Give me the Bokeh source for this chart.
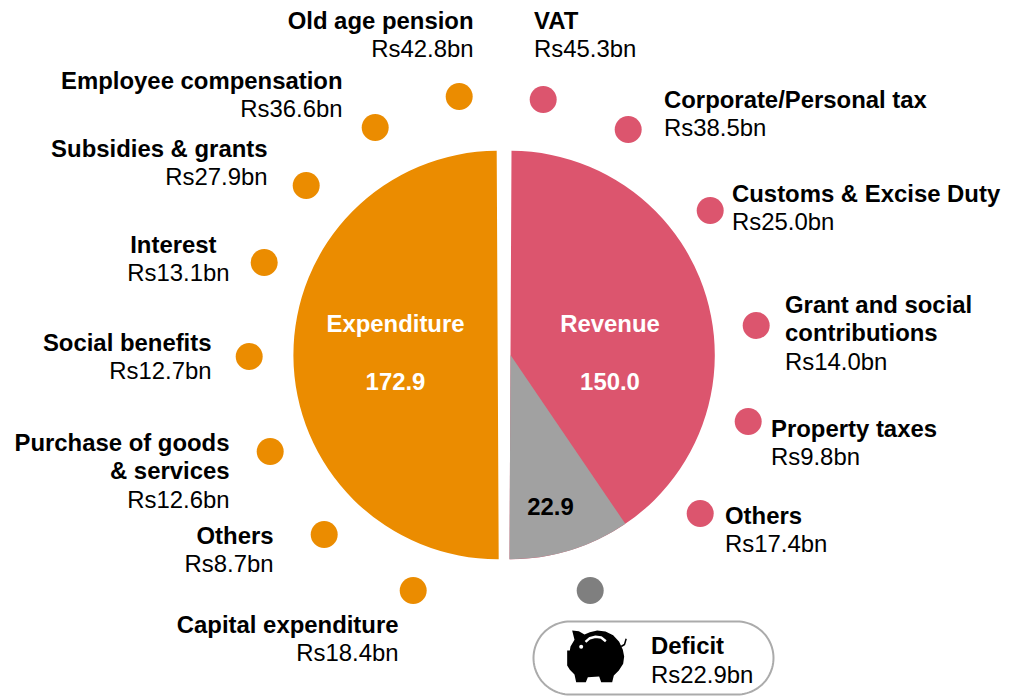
from bokeh.plotting import figure
from bokeh.embed import file_html
from bokeh.resources import INLINE
from bokeh.core.properties import value
from bokeh.models import Range1d
import numpy as np

# ---------- data ----------
expenditure_total = 172.9
revenue_total = 150.0
deficit_total = 22.9
exp_names = ["Old age pension", "Employee compensation", "Subsidies & grants", "Interest",
             "Social benefits", "Purchase of goods\n& services", "Others", "Capital expenditure"]
exp_values = [42.8, 36.6, 27.9, 13.1, 12.7, 12.6, 8.7, 18.4]
rev_names = ["VAT", "Corporate/Personal tax", "Customs & Excise Duty", "Grant and social\ncontributions",
             "Property taxes", "Others"]
rev_values = [45.3, 38.5, 25.0, 14.0, 9.8, 17.4]
half_sweep = 180.0
deficit_sweep = 34.5   # as drawn in the picture

# ---------- layout (picture pixels) ----------
W, H = 1002, 696
ORANGE, ROSE, GREY, DOT_GREY = "#EB8C00", "#DC556E", "#A1A1A1", "#7F7F7F"
FONT = value("Liberation Sans")
FS = "23.9px"
LINE = 28.6
TEXT_DY = -9.4

exp_dots = [(458.7, 96), (374.7, 127), (305.7, 185), (263.7, 262), (248.7, 356), (269.7, 451), (323.7, 534), (412.7, 590)]
rev_dots = [(542.7, 99), (627.7, 129), (709.7, 210), (755.7, 325), (747.7, 421), (699.7, 513)]
# (name x, value x, first baseline)
exp_text = [(473, 473, 29), (342, 342, 89), (267, 267, 157), (216, 229, 253),
            (211, 211, 351), (229, 229, 451), (273, 273, 544), (398, 398, 633)]
rev_text = [(533.5, 533.5, 29), (663.5, 663.5, 108), (731.5, 731.5, 202), (784.5, 784.5, 313),
            (770.5, 770.5, 437), (724.5, 724.5, 524)]


def Y(py):
    return H - py


p = figure(width=W, height=H, output_backend="svg", toolbar_location=None,
           x_range=Range1d(0, W), y_range=Range1d(0, H), min_border=0)
p.axis.visible = False
p.grid.visible = False
p.outline_line_color = None
p.background_fill_color = "#FFFFFF"
p.border_fill_color = "#FFFFFF"

# ---------- pie ----------
tilt = 0.28
cy = Y(354.5)
R = 204.2
a0 = 90 + tilt
p.wedge(x=[497.2], y=[cy], radius=R, start_angle=[a0], end_angle=[a0 + half_sweep],
        start_angle_units="deg", end_angle_units="deg", fill_color=ORANGE, line_color=None)
b0 = 90 - tilt
b1 = b0 + half_sweep
b2 = b1 + deficit_sweep
p.wedge(x=[510], y=[cy], radius=R, start_angle=[b1], end_angle=[b0 + 360],
        start_angle_units="deg", end_angle_units="deg", fill_color=ROSE, line_color=None)
p.wedge(x=[510], y=[cy], radius=R, start_angle=[b1], end_angle=[b2],
        start_angle_units="deg", end_angle_units="deg", fill_color=GREY, line_color=None)

# ---------- dots ----------
for dots, col in ((exp_dots, ORANGE), (rev_dots, ROSE), ([(589.7, 590)], DOT_GREY)):
    p.scatter(x=[d[0] for d in dots], y=[Y(d[1]) for d in dots], size=27,
              marker="circle", fill_color=col, line_color=None)


def txt(x, py, s, align="left", bold=False, color="#000000"):
    p.text(x=[x], y=[Y(py + TEXT_DY)], text=[s], text_font=FONT, text_font_size=FS,
           text_font_style="bold" if bold else "normal", text_align=align,
           text_baseline="alphabetic", text_color=color)


def block(names, vals, places, align):
    for n, v, (nx, vx, py) in zip(names, vals, places):
        lines = n.split("\n")
        for i, l in enumerate(lines):
            txt(nx, py + i * LINE, l, align, True)
        txt(vx, py + len(lines) * LINE, f"Rs{v:.1f}bn", align)


block(exp_names, exp_values, exp_text, "right")
block(rev_names, rev_values, rev_text, "left")

# ---------- inner labels ----------
txt(395, 332, "Expenditure", "center", True, "#FFFFFF")
txt(395, 390, f"{expenditure_total:.1f}", "center", True, "#FFFFFF")
txt(609.5, 332, "Revenue", "center", True, "#FFFFFF")
txt(609.5, 390, f"{revenue_total:.1f}", "center", True, "#FFFFFF")
txt(550, 515, f"{deficit_total:.1f}", "center", True, "#000000")

# ---------- deficit pill ----------
x0, x1, y0, y1, r = 533, 773, 621, 694, 36.5
t = np.linspace(0, np.pi / 2, 24)
px = np.concatenate([x1 - r + r * np.sin(t), x1 - r + r * np.cos(t), x0 + r - r * np.sin(t), x0 + r - r * np.cos(t)])
py = np.concatenate([y0 + r - r * np.cos(t), y1 - r + r * np.sin(t), y1 - r + r * np.cos(t), y0 + r - r * np.sin(t)])
p.patch(px.tolist(), [Y(v) for v in py], fill_color="#FFFFFF", line_color="#ABABAB", line_width=2)
txt(650.5, 654, "Deficit", "left", True)
txt(650.5, 683, f"Rs{deficit_total:.1f}bn", "left")

# ---------- piggy bank icon (zoom-crop coordinates) ----------
pig = [(110, 240), (118, 240), (120, 228), (132, 208), (125, 180), (145, 182), (162, 192), (178, 185), (200, 180),
       (225, 183), (248, 194), (266, 214), (277, 238), (281, 258), (278, 280), (265, 300), (250, 315),
       (245, 335), (212, 335), (206, 318), (172, 320), (166, 335), (137, 335), (132, 312), (118, 298), (110, 285)]
def zx(v): return 530 + v / 3
def zy(v): return Y(570 + v / 3)
p.patch([zx(a) for a, _ in pig], [zy(b) for _, b in pig], fill_color="#000000", line_color=None)
p.line([zx(a) for a in (272, 282, 287)], [zy(b) for b in (228, 222, 205)], line_color="#000000", line_width=1.5)
p.line([zx(a) for a in (165, 178, 195, 212, 226)], [zy(b) for b in (214, 203, 199, 201, 212)],
       line_color="#FFFFFF", line_width=2.5)
p.scatter([zx(152)], [zy(229)], size=4, marker="circle", fill_color="#FFFFFF", line_color=None)

open("out.html", "w").write(file_html(p, INLINE))
